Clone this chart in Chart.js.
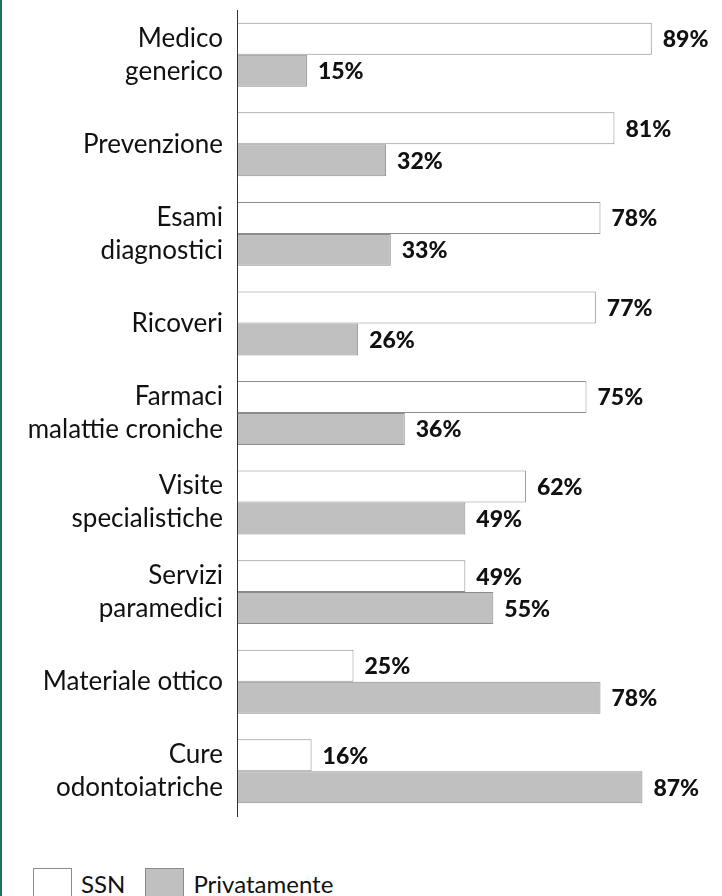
<!DOCTYPE html>
<html>
<head>
<meta charset="utf-8">
<script src="https://cdn.jsdelivr.net/npm/chart.js@4"></script>
<style>
  html, body { margin: 0; padding: 0; background: #fff; }
  body { width: 722px; height: 896px; position: relative; overflow: hidden; }
  #edge { position: absolute; left: 0; top: 0; width: 2px; height: 896px; background: #23705f; }
  #wrap { position: absolute; left: 0; top: 0; width: 722px; height: 830px; }
  #legend { position: absolute; left: 33px; top: 868px; display: flex; font-family: Lato, "Open Sans", sans-serif; font-size: 24px; color: #111; }
  .item { display: flex; align-items: center; margin-right: 20px; }
  .box { width: 39px; height: 30px; border: 1px solid #8c8c8c; box-sizing: border-box; margin-right: 9px; }
</style>
</head>
<body>
<div id="edge"></div>
<div id="wrap"><canvas id="chart"></canvas></div>
<div id="legend"></div>
<script>
// --- data ---
const categories = [
    ['Medico', 'generico'],
    'Prevenzione',
    ['Esami', 'diagnostici'],
    'Ricoveri',
    ['Farmaci', 'malattie croniche'],
    ['Visite', 'specialistiche'],
    ['Servizi', 'paramedici'],
    'Materiale ottico',
    ['Cure', 'odontoiatriche']
];
const seriesNames = ['SSN', 'Privatamente'];
const ssnValues = [89, 81, 78, 77, 75, 62, 49, 25, 16];
const privateValues = [15, 32, 33, 26, 36, 49, 55, 78, 87];
const seriesColors = ['#ffffff', '#c0c0c0'];

const FONT = 'Lato, "Open Sans", sans-serif';

// draw the % next to each bar end
const valueLabels = {
    id: 'valueLabels',
    afterDatasetsDraw(chart) {
        const ctx = chart.ctx;
        ctx.save();
        ctx.font = '900 23px ' + FONT;
        ctx.fillStyle = '#111';
        ctx.textAlign = 'left';
        ctx.textBaseline = 'middle';
        chart.data.datasets.forEach((ds, di) => {
            chart.getDatasetMeta(di).data.forEach((bar, i) => {
                ctx.fillText(ds.data[i] + '%', bar.x + 11, bar.y + 1);
            });
        });
        ctx.restore();
    }
};

const ctx = document.getElementById('chart').getContext('2d');
new Chart(ctx, {
    type: 'bar',
    data: {
        labels: categories,
        datasets: [
            { label: seriesNames[0], data: ssnValues, backgroundColor: seriesColors[0], borderColor: '#8c8c8c', borderWidth: 1 },
            { label: seriesNames[1], data: privateValues, backgroundColor: seriesColors[1], borderColor: '#8c8c8c', borderWidth: 1 }
        ]
    },
    options: {
        indexAxis: 'y',
        responsive: true,
        maintainAspectRatio: false,
        animation: false,
        layout: { padding: { top: 10, bottom: 14, right: 19, left: 0 } },
        datasets: { bar: { categoryPercentage: 0.714, barPercentage: 1.0 } },
        scales: {
            x: { display: false, min: 0, max: 100 },
            y: {
                grid: { display: false },
                border: { display: true, color: '#333', width: 1, z: 1 },
                ticks: { color: '#111', padding: 6, font: { family: FONT, size: 26, lineHeight: 1.27 } },
                afterFit(scale) {
                    scale.width = 237;
                    scale.paddingTop = 0;
                    scale.paddingBottom = 0;
                }
            }
        },
        plugins: {
            legend: { display: false },
            tooltip: { enabled: false }
        }
    },
    plugins: [valueLabels]
});

// legend
const legend = document.getElementById('legend');
seriesNames.forEach((name, i) => {
    const item = document.createElement('div');
    item.className = 'item';
    const box = document.createElement('div');
    box.className = 'box';
    box.style.background = seriesColors[i];
    item.appendChild(box);
    item.appendChild(document.createTextNode(name));
    legend.appendChild(item);
});
</script>
</body>
</html>
